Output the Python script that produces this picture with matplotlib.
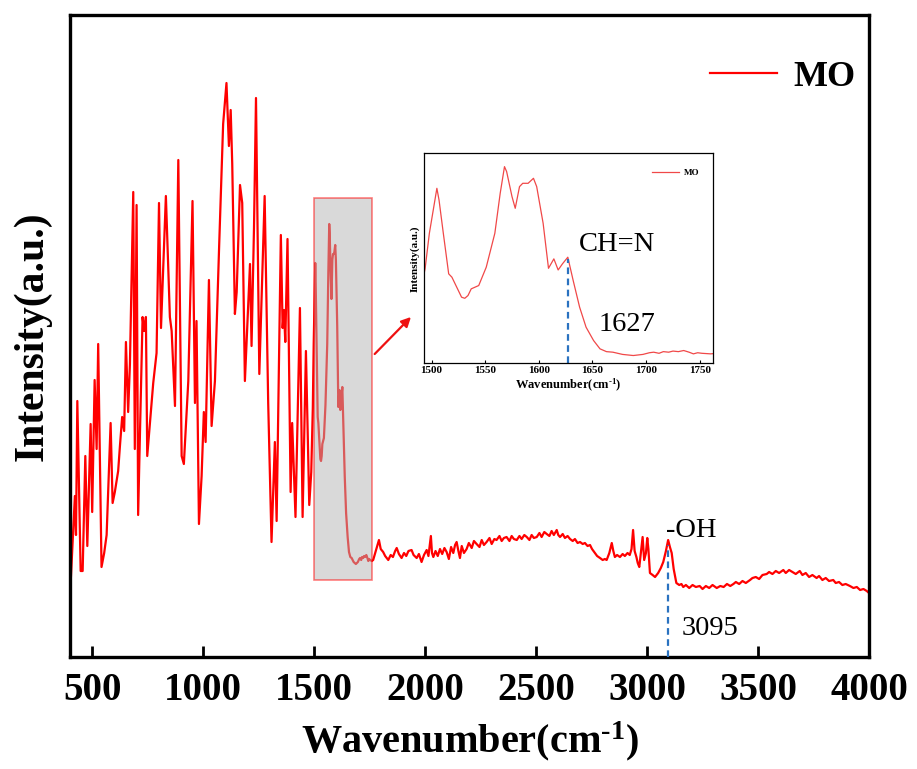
import matplotlib
matplotlib.use('Agg')
import matplotlib.pyplot as plt
from matplotlib.patches import Rectangle, FancyArrowPatch

plt.rcParams['font.family'] = ['Liberation Serif', 'DejaVu Serif']
plt.rcParams['mathtext.fontset'] = 'custom'
plt.rcParams['mathtext.rm'] = 'Liberation Serif:bold'
plt.rcParams['mathtext.bf'] = 'Liberation Serif:bold'
plt.rcParams['mathtext.it'] = 'Liberation Serif:bold:italic'
plt.rcParams['mathtext.default'] = 'rm'

# ---------------- data (arbitrary units) ----------------
wn_fingerprint = [400, 422, 427, 433, 448, 457, 469, 478, 493, 500,
                  511, 520, 527, 542, 554, 565, 583, 592, 602, 617,
                  625, 635, 644, 652, 662, 670, 685, 692, 700, 707,
                  727, 734, 742, 748, 760, 775, 790, 801, 810, 832,
                  850, 858, 873, 888, 903, 913, 933, 952, 963, 970,
                  981, 993, 1003, 1011, 1026, 1038, 1053, 1072, 1090, 1105,
                  1116, 1124, 1131, 1143, 1151, 1166, 1176, 1188, 1200, 1211,
                  1218, 1229, 1238, 1253, 1277, 1293, 1308, 1323, 1331, 1350,
                  1358, 1364, 1370, 1380, 1394, 1401, 1416, 1436, 1448, 1463,
                  1478, 1487]
int_fingerprint = [61, 161, 122, 256, 86, 86, 201, 111, 233, 145,
                   277, 208, 313, 90, 104, 122, 234, 154, 165, 186,
                   211, 240, 226, 315, 245, 293, 465, 208, 452, 142,
                   340, 326, 340, 201, 233, 274, 304, 454, 329, 461,
                   340, 326, 251, 497, 201, 193, 276, 456, 254, 336,
                   133, 181, 245, 215, 377, 231, 276, 411, 533, 574,
                   511, 547, 493, 343, 365, 472, 454, 276, 336, 393,
                   311, 429, 559, 283, 461, 254, 115, 215, 136, 422,
                   329, 347, 315, 418, 165, 234, 140, 349, 140, 306,
                   152, 185]

wn_zoom = [1494, 1498, 1505, 1507, 1511, 1516, 1519, 1522, 1528, 1531,
           1534, 1537, 1544, 1551, 1559, 1564, 1568, 1570, 1575, 1578,
           1582, 1585, 1590, 1595, 1598, 1604, 1609, 1614, 1618, 1622,
           1627, 1632, 1638, 1644, 1651, 1657, 1663, 1669, 1678, 1688,
           1697, 1703, 1707, 1712, 1716, 1721, 1725, 1730, 1735, 1740,
           1744, 1748, 1752, 1760]
int_zoom = [249, 313, 394, 373, 313, 240, 234, 222, 198, 196,
            201, 213, 219, 252, 313, 385, 433, 424, 379, 358,
            397, 403, 403, 412, 397, 331, 250, 267, 247, 258,
            270, 228, 180, 144, 120, 105, 100, 99, 95, 93,
            95, 98, 99, 97, 100, 99, 101, 100, 102, 99,
            96, 98, 97, 96]

wn_high = [1766, 1775, 1785, 1792, 1800, 1811, 1820, 1834, 1845, 1855,
           1865, 1872, 1882, 1894, 1905, 1915, 1925, 1939, 1948, 1962,
           1972, 1984, 1995, 2007, 2015, 2026, 2031, 2037, 2047, 2057,
           2067, 2077, 2087, 2097, 2107, 2117, 2127, 2135, 2142, 2150,
           2157, 2165, 2175, 2187, 2197, 2210, 2220, 2232, 2245, 2255,
           2265, 2277, 2290, 2300, 2312, 2322, 2335, 2345, 2355, 2367,
           2380, 2390, 2400, 2413, 2425, 2435, 2447, 2458, 2470, 2480,
           2490, 2503, 2515, 2525, 2537, 2548, 2560, 2570, 2580, 2593,
           2600, 2608, 2620, 2630, 2642, 2653, 2665, 2675, 2687, 2698,
           2710, 2720, 2732, 2743, 2752, 2765, 2775, 2788, 2800, 2810,
           2818, 2830, 2841, 2848, 2855, 2865, 2878, 2890, 2900, 2912,
           2922, 2930, 2937, 2944, 2952, 2958, 2965, 2972, 2980, 2987,
           2995, 3001, 3006, 3013, 3025, 3036, 3050, 3062, 3073, 3085,
           3095, 3103, 3111, 3120, 3132, 3145, 3155, 3163, 3175, 3190,
           3205, 3220, 3237, 3250, 3265, 3280, 3295, 3314, 3330, 3345,
           3360, 3375, 3389, 3400, 3415, 3430, 3445, 3464, 3475, 3490,
           3505, 3520, 3539, 3550, 3565, 3580, 3595, 3614, 3625, 3640,
           3655, 3670, 3688, 3700, 3715, 3730, 3745, 3764, 3775, 3790,
           3805, 3820, 3839, 3850, 3865, 3880, 3895, 3914, 3930, 3945,
           3960, 3975, 3990, 4000]
int_high = [97, 104, 112, 117, 108, 105, 101, 97, 102, 100,
            106, 109, 103, 99, 104, 101, 106, 107, 102, 99,
            103, 95, 102, 107, 101, 121, 104, 100, 106, 101,
            108, 103, 109, 105, 98, 110, 104, 112, 115, 106,
            99, 111, 104, 108, 114, 109, 116, 113, 110, 117,
            112, 115, 119, 113, 118, 117, 121, 116, 119, 120,
            116, 121, 118, 117, 121, 118, 122, 120, 117, 122,
            119, 120, 124, 120, 125, 123, 121, 126, 122, 127,
            122, 120, 123, 119, 121, 118, 116, 118, 114, 115,
            113, 114, 111, 112, 108, 104, 101, 99, 97, 98,
            97, 104, 114, 106, 100, 102, 100, 103, 101, 104,
            102, 108, 127, 106, 100, 94, 90, 104, 120, 97,
            104, 119, 108, 84, 82, 80, 84, 89, 95, 106,
            117, 110, 104, 88, 74, 72, 73, 70, 72, 69,
            72, 70, 71, 68, 71, 69, 72, 69, 71, 70,
            73, 71, 73, 75, 73, 76, 74, 77, 79, 80,
            78, 82, 83, 85, 83, 86, 84, 87, 84, 87,
            85, 83, 86, 82, 84, 80, 82, 79, 81, 77,
            79, 76, 77, 74, 75, 72, 73, 71, 69, 70,
            67, 68, 66, 64]

wavenumber = wn_fingerprint + wn_zoom + wn_high
intensity = int_fingerprint + int_zoom + int_high

series_label = 'MO'
main_ticks = [500, 1000, 1500, 2000, 2500, 3000, 3500, 4000]
inset_ticks = [1500, 1550, 1600, 1650, 1700, 1750]
zoom_range = (1499, 1760)
peak_ch = 1627
peak_oh = 3095

xlabel_text = 'Wavenumber(cm$^{\u20101}$)'

# ---------------- figure ----------------
W, H = 917, 769
fig = plt.figure(figsize=(W / 100, H / 100), dpi=100)
ax = fig.add_axes([70 / W, 1 - 657 / H, (869 - 70) / W, (657 - 15) / H])

ax.plot(wavenumber, intensity, color='#ff0000', lw=1.6, label=series_label, zorder=2)
ax.set_xlim(400, 4000)
ax.set_ylim(0, 642)
ax.set_xticks(main_ticks)
ax.set_yticks([])
ax.tick_params(axis='x', direction='in', length=8, width=2, pad=11,
               labelsize=28)
for lab in ax.get_xticklabels():
    lab.set_fontweight('bold')
for sp in ax.spines.values():
    sp.set_linewidth(2.4)

ax.set_xlabel(xlabel_text, fontsize=29, fontweight='bold', labelpad=7)
ax.set_ylabel('Intensity(a.u.)', fontsize=30, fontweight='bold', labelpad=13)

leg = ax.legend(loc='center right', bbox_to_anchor=(0.983, 0.903), frameon=False,
                prop={'size': 26, 'weight': 'bold'}, handlelength=1.85,
                handletextpad=0.45, borderpad=0, borderaxespad=0)

# grey highlight box
rect = Rectangle((zoom_range[0], 77), zoom_range[1] - zoom_range[0], 459 - 77,
                 facecolor='#b4b4b4', edgecolor='#ff0000', lw=1.2, alpha=0.5, zorder=3)
ax.add_patch(rect)

arrow = FancyArrowPatch((1764, 301), (1945, 342), arrowstyle='-|>', mutation_scale=14,
                        color='#ee1111', lw=1.6, zorder=4)
ax.add_patch(arrow)

# -OH annotation
ax.vlines(peak_oh, 0, 112, colors='#2a72c0', linestyles=(0, (3, 2)), lw=1.6, zorder=3)
ax.text(3086, 120, '-OH', fontsize=20.5, ha='left', va='baseline')
ax.text(3157, 22, str(peak_oh), fontsize=20.5, ha='left', va='baseline')

# ---------------- inset ----------------
axin = fig.add_axes([424 / W, 1 - 363.3 / H, (712.7 - 424) / W, (363.3 - 153.3) / H])
axin.plot(wavenumber, intensity, color='#f04848', lw=0.9, label=series_label)
axin.set_xlim(1493, 1762)
axin.set_ylim(79, 457)
axin.set_xticks(inset_ticks)
axin.set_yticks([])
axin.tick_params(axis='x', direction='in', length=2.5, width=0.8, pad=2, labelsize=8)
for lab in axin.get_xticklabels():
    lab.set_fontweight('bold')
for sp in axin.spines.values():
    sp.set_linewidth(0.9)
axin.set_xlabel(xlabel_text, fontsize=9, fontweight='bold', labelpad=1)
axin.set_ylabel('Intensity(a.u.)', fontsize=8, fontweight='bold', labelpad=3)
axin.vlines(peak_ch, 79, 266, colors='#2a72c0', linestyles=(0, (3, 2)), lw=1.6)
axin.text(1637, 281, 'CH=N', fontsize=20.5, ha='left', va='baseline')
axin.text(1656, 138, str(peak_ch), fontsize=20.5, ha='left', va='baseline')
axin.legend(loc='center right', bbox_to_anchor=(0.955, 0.905), frameon=False,
            prop={'size': 6.5, 'weight': 'bold'}, handlelength=3.0,
            handletextpad=0.6, borderpad=0, borderaxespad=0)

fig.savefig('out.png', dpi=100)
